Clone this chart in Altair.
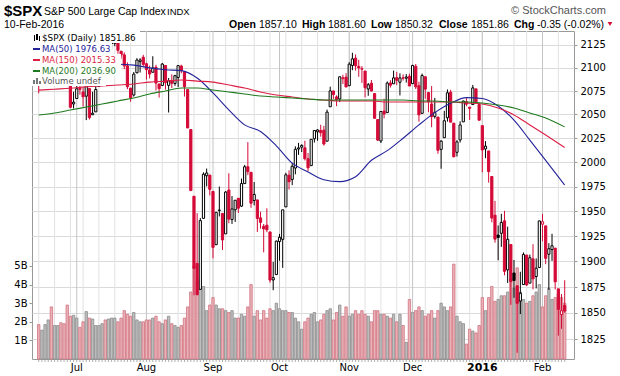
import altair as alt
import pandas as pd

# ---------------- data ----------------
jun_days = [15, 16, 17, 18, 19, 22, 23, 24, 25, 26, 29, 30]
jul_days = [1, 2, 6, 7, 8, 9, 10, 13, 14, 15, 16, 17, 20, 21, 22, 23, 24, 27, 28, 29, 30, 31]
aug_days = [3, 4, 5, 6, 7, 10, 11, 12, 13, 14, 17, 18, 19, 20, 21, 24, 25, 26, 27, 28, 31]
sep_days = [1, 2, 3, 4, 8, 9, 10, 11, 14, 15, 16, 17, 18, 21, 22, 23, 24, 25, 28, 29, 30]
oct_days = [1, 2, 5, 6, 7, 8, 9, 12, 13, 14, 15, 16, 19, 20, 21, 22, 23, 26, 27, 28, 29, 30]
nov_days = [2, 3, 4, 5, 6, 9, 10, 11, 12, 13, 16, 17, 18, 19, 20, 23, 24, 25, 27, 30]
dec_days = [1, 2, 3, 4, 7, 8, 9, 10, 11, 14, 15, 16, 17, 18, 21, 22, 23, 24, 28, 29, 30, 31]
jan_days = [4, 5, 6, 7, 8, 11, 12, 13, 14, 15, 19, 20, 21, 22, 25, 26, 27, 28, 29]
feb_days = [1, 2, 3, 4, 5, 8, 9, 10]

dates = ([f"2015-06-{d:02d}" for d in jun_days] + [f"2015-07-{d:02d}" for d in jul_days]
         + [f"2015-08-{d:02d}" for d in aug_days] + [f"2015-09-{d:02d}" for d in sep_days]
         + [f"2015-10-{d:02d}" for d in oct_days] + [f"2015-11-{d:02d}" for d in nov_days]
         + [f"2015-12-{d:02d}" for d in dec_days] + [f"2016-01-{d:02d}" for d in jan_days]
         + [f"2016-02-{d:02d}" for d in feb_days])

opens = [2091.34, 2084.26, 2097.40, 2101.58, 2121.06, 2112.50, 2123.16, 2123.65, 2109.96, 2102.62, 2098.63, 2061.19,
         2067.00, 2078.03, 2073.95, 2069.52, 2077.66, 2049.73, 2052.74, 2080.03, 2099.72, 2109.01, 2110.55, 2126.80,
         2126.85, 2127.55, 2118.21, 2114.16, 2102.24, 2078.19, 2070.75, 2094.70, 2106.78, 2111.60,
         2104.49, 2097.68, 2095.27, 2100.75, 2082.61, 2080.98, 2102.66, 2081.10, 2086.19, 2083.15, 2089.70, 2101.99,
         2095.69, 2076.61, 2034.08, 1965.15, 1898.08, 1872.75, 1942.77, 1986.06, 1986.73,
         1970.09, 1916.52, 1950.79, 1947.76, 1927.30, 1971.45, 1941.59, 1951.45, 1963.06, 1955.10, 1978.02, 1995.33,
         1989.66, 1960.84, 1961.39, 1943.24, 1934.81, 1935.93, 1929.18, 1881.90, 1887.14,
         1919.65, 1921.77, 1954.33, 1986.63, 1982.34, 1994.01, 2013.73, 2015.65, 2015.00, 2003.66, 1996.47, 2024.37,
         2031.73, 2033.13, 2033.47, 2021.88, 2058.19, 2075.08, 2068.75, 2066.48, 2088.35, 2090.00,
         2080.76, 2102.63, 2110.60, 2101.68, 2098.60, 2096.56, 2077.19, 2083.41, 2072.29, 2044.64, 2022.08, 2053.67,
         2051.99, 2083.70, 2082.82, 2089.41, 2084.42, 2089.30, 2088.82, 2090.95,
         2082.93, 2101.71, 2080.71, 2051.24, 2090.42, 2073.39, 2061.17, 2047.93, 2047.27, 2013.37, 2025.55, 2046.50,
         2073.76, 2040.81, 2010.27, 2023.15, 2042.20, 2063.52, 2057.77, 2060.54, 2077.34, 2060.59,
         2038.20, 2013.78, 2011.71, 1985.32, 1945.97, 1926.12, 1927.83, 1940.34, 1891.68, 1916.68, 1888.66, 1876.18,
         1861.46, 1877.40, 1906.28, 1878.79, 1902.52, 1885.22, 1894.00,
         1936.94, 1935.26, 1907.07, 1911.67, 1913.07, 1873.25, 1848.46, 1857.10]
highs = [2091.34, 2097.40, 2106.79, 2126.65, 2121.64, 2129.87, 2128.03, 2125.10, 2116.04, 2108.92, 2098.63, 2074.28,
         2082.78, 2085.06, 2078.61, 2083.74, 2077.66, 2074.28, 2081.31, 2099.88, 2111.98, 2114.14, 2124.42, 2128.91,
         2132.82, 2128.49, 2118.51, 2116.87, 2106.01, 2078.19, 2095.60, 2110.60, 2110.48, 2114.24,
         2105.70, 2102.51, 2112.66, 2103.32, 2082.61, 2105.35, 2102.66, 2089.06, 2092.93, 2092.45, 2102.87, 2103.47,
         2095.69, 2076.61, 2034.08, 1965.15, 1948.04, 1943.09, 1989.60, 1993.48, 1986.73,
         1970.09, 1948.91, 1975.01, 1947.76, 1970.42, 1988.63, 1965.29, 1961.05, 1963.06, 1983.19, 1997.26, 2020.86,
         1989.66, 1979.64, 1961.39, 1949.52, 1937.17, 1952.89, 1929.18, 1899.48, 1920.53,
         1927.21, 1951.36, 1989.17, 1991.62, 1999.31, 2016.50, 2020.13, 2018.66, 2022.34, 2009.56, 2024.15, 2033.54,
         2034.45, 2039.12, 2037.97, 2055.20, 2079.74, 2075.14, 2070.37, 2090.35, 2092.52, 2094.32,
         2106.20, 2116.48, 2114.59, 2108.78, 2101.91, 2096.56, 2083.67, 2086.94, 2072.29, 2044.64, 2053.22, 2066.69,
         2085.31, 2086.74, 2097.06, 2095.61, 2094.12, 2093.00, 2093.29, 2093.81,
         2103.37, 2104.27, 2085.00, 2093.84, 2090.42, 2073.85, 2080.33, 2067.65, 2047.27, 2022.92, 2053.87, 2076.72,
         2076.37, 2040.81, 2022.90, 2042.74, 2064.73, 2067.36, 2057.77, 2081.56, 2077.34, 2062.54,
         2038.20, 2021.94, 2011.71, 1985.32, 1960.40, 1935.65, 1947.38, 1950.33, 1934.47, 1916.68, 1901.44, 1876.18,
         1889.85, 1908.85, 1906.28, 1906.73, 1916.99, 1902.96, 1940.24,
         1947.20, 1935.26, 1918.01, 1927.35, 1913.07, 1873.25, 1868.25, 1881.60]
lows = [2072.49, 2082.10, 2088.86, 2101.58, 2109.45, 2112.50, 2119.89, 2108.58, 2101.78, 2095.38, 2056.64, 2056.32,
        2067.00, 2071.02, 2058.40, 2044.02, 2044.66, 2049.73, 2052.74, 2080.03, 2098.18, 2102.49, 2110.55, 2119.88,
        2123.66, 2115.40, 2110.00, 2098.63, 2077.09, 2063.52, 2069.09, 2094.08, 2094.97, 2102.07,
        2087.31, 2088.60, 2095.27, 2075.53, 2067.91, 2080.98, 2076.49, 2052.09, 2078.26, 2080.61, 2079.30, 2094.14,
        2069.09, 2035.73, 1970.89, 1867.01, 1867.08, 1872.75, 1942.77, 1975.19, 1965.98,
        1903.07, 1916.52, 1944.72, 1911.21, 1927.30, 1937.88, 1937.19, 1939.19, 1948.27, 1954.30, 1977.93, 1986.73,
        1953.45, 1955.80, 1929.22, 1932.57, 1908.92, 1928.92, 1879.21, 1871.91, 1887.14,
        1900.70, 1893.70, 1954.33, 1971.99, 1976.44, 1987.53, 2007.61, 2010.55, 2001.78, 1990.73, 1996.47, 2020.46,
        2022.31, 2026.61, 2017.22, 2021.88, 2058.19, 2066.53, 2058.84, 2063.11, 2082.63, 2079.34,
        2080.76, 2097.51, 2096.98, 2090.41, 2083.74, 2068.24, 2069.91, 2074.85, 2045.66, 2022.02, 2019.94, 2045.90,
        2051.99, 2078.76, 2082.82, 2081.39, 2070.29, 2086.30, 2084.13, 2080.41,
        2082.93, 2077.11, 2042.35, 2051.24, 2066.78, 2052.32, 2036.53, 2045.67, 2008.80, 1993.26, 2025.55, 2042.43,
        2041.66, 2005.33, 2005.93, 2020.49, 2042.20, 2058.73, 2044.20, 2060.54, 2061.97, 2043.62,
        1989.68, 2004.17, 1979.05, 1938.83, 1918.46, 1901.10, 1914.35, 1886.41, 1878.93, 1857.83, 1864.60, 1812.29,
        1848.98, 1877.40, 1875.97, 1878.79, 1872.70, 1873.65, 1894.00,
        1920.03, 1897.29, 1872.23, 1900.52, 1872.65, 1828.46, 1834.94, 1850.32]
closes = [2084.43, 2096.29, 2100.44, 2121.24, 2109.99, 2122.85, 2124.20, 2108.58, 2102.31, 2101.49, 2057.64, 2063.11,
          2077.42, 2076.78, 2068.76, 2081.34, 2046.68, 2051.31, 2076.62, 2099.60, 2108.95, 2107.40, 2124.29, 2126.64,
          2128.28, 2119.21, 2114.15, 2102.15, 2079.65, 2067.64, 2093.25, 2108.57, 2108.63, 2103.84,
          2098.04, 2093.32, 2099.84, 2083.56, 2077.57, 2104.18, 2084.07, 2086.05, 2083.39, 2091.54, 2102.44, 2096.92,
          2079.61, 2035.73, 1970.89, 1893.21, 1867.61, 1940.51, 1987.66, 1988.87, 1972.18,
          1913.85, 1948.86, 1951.13, 1921.22, 1969.41, 1942.04, 1952.29, 1961.05, 1953.03, 1978.09, 1995.31, 1990.20,
          1958.03, 1966.97, 1942.74, 1938.76, 1932.24, 1931.34, 1881.77, 1884.09, 1920.03,
          1923.82, 1951.36, 1987.05, 1979.92, 1995.83, 2013.43, 2014.89, 2017.46, 2003.69, 1994.24, 2023.86, 2033.11,
          2033.66, 2030.77, 2018.94, 2052.51, 2075.15, 2071.18, 2065.89, 2090.35, 2089.41, 2079.36,
          2104.05, 2109.79, 2102.31, 2099.93, 2099.20, 2078.58, 2081.72, 2075.00, 2045.97, 2023.04, 2053.19, 2050.44,
          2083.58, 2081.24, 2089.17, 2086.59, 2089.14, 2088.87, 2090.11, 2080.41,
          2102.63, 2079.51, 2049.62, 2091.69, 2077.07, 2063.59, 2047.62, 2052.23, 2012.37, 2021.94, 2043.41, 2073.07,
          2041.89, 2005.55, 2021.15, 2038.97, 2064.29, 2060.99, 2056.50, 2078.36, 2063.36, 2043.94,
          2012.66, 2016.71, 1990.26, 1943.09, 1922.03, 1923.67, 1938.68, 1890.28, 1921.84, 1880.33, 1881.33, 1859.33,
          1868.99, 1906.90, 1877.08, 1903.63, 1882.95, 1893.36, 1940.24,
          1939.38, 1903.03, 1912.53, 1915.45, 1880.05, 1853.44, 1852.21, 1851.86]
close_before_first = 2094.11

# volume in billions
volumes = [1.85, 1.55, 1.85, 2.10, 2.80, 1.80, 1.80, 1.95, 1.90, 2.90, 2.30, 2.35,
           2.20, 1.70, 2.00, 2.55, 2.20, 2.15, 1.80, 1.80, 1.90, 2.10, 2.15, 2.20, 2.20, 2.00, 2.20, 2.60, 2.40, 2.30,
           2.50, 2.10, 2.00, 2.00,
           2.10, 2.10, 2.20, 2.30, 2.00, 1.90, 2.10, 2.30, 1.90, 1.80, 1.70, 1.80, 2.20, 2.80, 3.60, 5.00, 4.20, 4.30,
           3.90, 2.60, 2.90,
           3.30, 2.90, 2.70, 2.70, 2.60, 2.50, 2.60, 2.20, 2.20, 2.40, 2.30, 2.80, 4.00, 2.30, 2.60, 2.10, 2.60, 2.20,
           2.70, 2.60, 3.00,
           2.70, 2.60, 2.60, 2.50, 2.50, 2.20, 2.00, 1.60, 2.00, 2.20, 2.40, 2.50, 2.00, 2.10, 2.40, 2.60, 2.70, 2.10,
           2.50, 2.90, 2.30, 2.80,
           2.30, 2.40, 2.60, 2.40, 2.60, 2.40, 2.30, 2.00, 2.60, 2.60, 2.40, 2.40, 2.30, 2.20, 2.40, 2.00, 2.40, 1.80,
           0.90, 3.20,
           2.50, 2.60, 2.80, 2.60, 2.30, 2.40, 2.60, 2.20, 2.60, 3.00, 2.80, 2.60, 2.80, 5.10, 2.30, 2.00, 1.90, 0.80,
           1.60, 1.50, 1.40, 1.80,
           3.30, 2.60, 3.30, 3.90, 3.10, 3.20, 3.40, 3.40, 3.60, 4.30, 3.80, 4.90, 3.60, 3.20, 3.00, 3.10, 3.40, 3.60,
           4.00,
           2.80, 3.40, 3.80, 3.20, 3.30, 3.50, 3.30, 3.00]

# moving averages at every 5th trading day
ma_days = [0, 5, 10, 15, 20, 25, 30, 35, 40, 45, 50, 55, 60, 65, 70, 75, 80, 85, 90, 95, 100, 105, 110, 115,
           120, 125, 130, 135, 140, 145, 150, 155, 160, 166]
ma50 = [2106, 2106, 2105, 2105, 2104, 2104, 2103, 2100, 2098, 2097, 2089, 2073, 2055, 2039, 2032, 2017, 1999,
        1990, 1982, 1980, 1985, 2002, 2012, 2025, 2039, 2052, 2062, 2068, 2067, 2059, 2044, 2023, 2002, 1976.6]
ma150 = [2076, 2077, 2078, 2079.5, 2080.5, 2081.5, 2082.6, 2084.6, 2085.7, 2086.9, 2085.7, 2084.6, 2081.5, 2078.3,
         2074, 2070.7, 2068.6, 2066.5, 2065.4, 2064.4, 2064.4, 2064.4, 2063.3, 2063.3, 2063.3, 2063.3, 2063.3,
         2062.2, 2061.1, 2056.9, 2049.5, 2038.9, 2028.3, 2015.3]
ma200 = [2049.5, 2051.6, 2054.7, 2057.9, 2061.1, 2064.4, 2067.6, 2071.9, 2075.1, 2078.3, 2078.3, 2076.1, 2074,
         2071.9, 2069.7, 2068.6, 2067.6, 2066.5, 2065.4, 2065.4, 2065.4, 2065.4, 2065.4, 2065.4, 2064.4, 2064.4,
         2063.3, 2063.3, 2062.2, 2060.1, 2056.9, 2051.6, 2046.3, 2036.9]

month_labels = ["Jul", "Aug", "Sep", "Oct", "Nov", "Dec", "2016", "Feb"]
price_ticks = [1825, 1850, 1875, 1900, 1925, 1950, 1975, 2000, 2025, 2050, 2075, 2100, 2125]
volume_ticks = [1, 2, 3, 4, 5]

# ---------------- tables ----------------
n = len(dates)
prev = [close_before_first] + closes[:-1]
df = pd.DataFrame({"i": list(range(n)), "date": pd.to_datetime(dates), "open": opens, "high": highs,
                   "low": lows, "close": closes, "vol": volumes, "prev": prev})

ym = df["date"].dt.strftime("%Y-%m")
month_first = df.loc[~ym.duplicated(), "i"].tolist()[1:]
wk = df["date"].dt.strftime("%G-%V")
week_first = df.loc[~wk.duplicated(), "i"].tolist()
months_df = pd.DataFrame({"i": month_first, "label": month_labels})
weeks_df = pd.DataFrame({"i": week_first})
ma_df = pd.DataFrame({"i": ma_days * 3, "value": ma50 + ma150 + ma200,
                      "ma": ["MA50"] * len(ma_days) + ["MA150"] * len(ma_days) + ["MA200"] * len(ma_days)})

# ---------------- geometry ----------------
LEFT, TOP, W, H = 32, 31, 542, 328
RED = "#d40a37"
FONT = "DejaVu Sans"
HFONT = "Liberation Sans"

xs = alt.Scale(domain=[-0.545, 167.36], nice=False, zero=False)
ps = alt.Scale(type="log", domain=[1806.5, 2140.44], nice=False, zero=False)
vs = alt.Scale(domain=[0, 17.634], nice=False, zero=False)
X = alt.X("i:Q", scale=xs, axis=None)
down = "datum.close < datum.prev"

vgrid_w = alt.Chart(weeks_df).mark_rule(color="#e2e2e2", strokeWidth=1).encode(x=X)
vgrid_m = alt.Chart(months_df).mark_rule(color="#c4c4c4", strokeWidth=1).encode(x=X)

vol = alt.Chart(df).mark_bar(width=2.4, strokeWidth=0.8).encode(
    x=X,
    y=alt.Y("vol:Q", scale=vs, axis=alt.Axis(orient="left", values=volume_ticks, labelExpr="datum.value + 'B'",
                                             grid=False, domain=False, ticks=True, tickSize=3, tickColor="#999",
                                             labelFont=FONT, labelFontSize=10, labelColor="#000", labelPadding=2,
                                             title=None)),
    fill=alt.condition(down, alt.value("#e9b3b8"), alt.value("#bebebe")),
    stroke=alt.condition(down, alt.value("#d27280"), alt.value("#8c8c8c")),
)

wicks = alt.Chart(df).mark_rule(strokeWidth=1).encode(
    x=X,
    y=alt.Y("low:Q", scale=ps, axis=alt.Axis(orient="right", values=price_ticks, format="d", grid=True,
                                             gridColor="#dadada", domain=False, tickSize=3, tickColor="#999",
                                             labelFont=FONT, labelFontSize=10, labelColor="#000", labelPadding=3,
                                             title=None)),
    y2="high:Q",
    color=alt.condition(down, alt.value(RED), alt.value("#000000")),
)
bodies_hollow = alt.Chart(df).transform_filter("datum.close > datum.open").mark_bar(
    width=2.2, strokeWidth=1, fill="#ffffff").encode(
    x=X, y=alt.Y("open:Q", scale=ps, axis=None), y2="close:Q",
    stroke=alt.condition(down, alt.value(RED), alt.value("#000000")),
)
bodies_filled = alt.Chart(df).transform_filter("datum.close <= datum.open").mark_bar(
    width=2.2, strokeWidth=1).encode(
    x=X, y=alt.Y("open:Q", scale=ps, axis=None), y2="close:Q",
    stroke=alt.condition(down, alt.value(RED), alt.value("#000000")),
    fill=alt.condition(down, alt.value(RED), alt.value("#000000")),
)
mas = alt.Chart(ma_df).mark_line(strokeWidth=1.1, interpolate="monotone").encode(
    x=X, y=alt.Y("value:Q", scale=ps, axis=None),
    color=alt.Color("ma:N", scale=alt.Scale(domain=["MA50", "MA150", "MA200"],
                                            range=["#23239a", "#dc1f45", "#1f7a1f"]), legend=None),
)

day_ticks = alt.Chart(df).mark_rule(color="#b0b0b0", strokeWidth=1).encode(
    x=X, y=alt.value(H + 1), y2=alt.value(H + 3))

mlabels = alt.Chart(months_df).transform_filter("datum.label != '2016'").mark_text(
    font=FONT, fontSize=10, baseline="alphabetic", align="center", color="#000").encode(
    x=X, y=alt.value(H + 12), text="label:N")
ylabel = alt.Chart(months_df).transform_filter("datum.label == '2016'").mark_text(
    font=FONT, fontSize=11, fontWeight="bold", baseline="alphabetic", align="center", color="#000").encode(
    x=X, y=alt.value(H + 12), text="label:N")

one = pd.DataFrame({"a": [0]})


def txt(s, px, py, size=10, weight="normal", color="#000", align="left", font=HFONT):
    return alt.Chart(one).mark_text(text=s, align=align, baseline="alphabetic", fontSize=size, fontWeight=weight,
                                    color=color, font=font).encode(x=alt.value(px - LEFT), y=alt.value(py - TOP))


def box(x0, y0, x1, y1, color="#ffffff"):
    return alt.Chart(one).mark_rect(color=color).encode(
        x=alt.value(x0 - LEFT), x2=alt.value(x1 - LEFT), y=alt.value(y0 - TOP), y2=alt.value(y1 - TOP))


legend_layers = [
    box(32, 31, 140, 43), box(32, 43, 112, 54), box(32, 54, 121, 65), box(32, 65, 121, 76), box(32, 76, 106, 86),
    # candle icon
    box(34, 35, 35, 41, "#000"), box(36, 34, 38, 40, "#000"), box(39, 36, 40, 41, "#000"),
    txt("$SPX (Daily) 1851.86", 42, 41, 8.8, font=FONT),
    box(33, 48, 40, 50, "#23239a"), txt("MA(50) 1976.63", 42, 52, 8.5, color="#23239a", font=FONT),
    box(33, 59, 40, 61, "#dc1f45"), txt("MA(150) 2015.33", 42, 63, 8.5, color="#dc1f45", font=FONT),
    box(33, 70, 40, 72, "#1f7a1f"), txt("MA(200) 2036.90", 42, 74, 8.5, color="#1f7a1f", font=FONT),
    box(33, 80, 35, 84, "#777"), box(36, 78, 38, 84, "#777"), box(39, 81, 41, 84, "#777"),
    txt("Volume undef", 42, 84, 8.5, color="#555", font=FONT),
]

header = [
    txt("$SPX", 4, 16, 15, "bold"),
    txt("S&P 500 Large Cap Index", 44, 15, 10.5),
    txt("INDX", 167, 15, 9.5),
    txt("\u00a9 StockCharts.com", 606, 14, 11, color="#555", align="right"),
    txt("10-Feb-2016", 4, 28, 10.5),
    txt("Open", 229, 28, 10.5, "bold"), txt("1857.10", 259, 28, 10.5),
    txt("High", 302, 28, 10.5, "bold"), txt("1881.60", 328, 28, 10.5),
    txt("Low", 371, 28, 10.5, "bold"), txt("1850.32", 395, 28, 10.5),
    txt("Close", 439, 28, 10.5, "bold"), txt("1851.86", 471, 28, 10.5),
    txt("Chg", 514, 28, 10.5, "bold"), txt("-0.35 (-0.02%)", 537, 28, 10.5),
    alt.Chart(one).mark_point(shape="triangle-down", filled=True, color=RED, size=22, opacity=1).encode(
        x=alt.value(610 - LEFT), y=alt.value(24 - TOP)),
]

chart = alt.layer(
    vgrid_w, vgrid_m, vol, wicks, bodies_hollow, bodies_filled, mas, day_ticks, mlabels, ylabel,
    *legend_layers, *header
).resolve_scale(y="independent", color="independent").properties(
    width=W, height=H, autosize=alt.AutoSizeParams(type="none"),
    padding={"left": LEFT, "top": TOP, "right": 620 - LEFT - W, "bottom": 376 - TOP - H},
    background="#ffffff",
).configure_view(stroke="#9a9a9a", strokeWidth=1)

chart.save("out.html", embed_options={"renderer": "svg", "actions": False})
